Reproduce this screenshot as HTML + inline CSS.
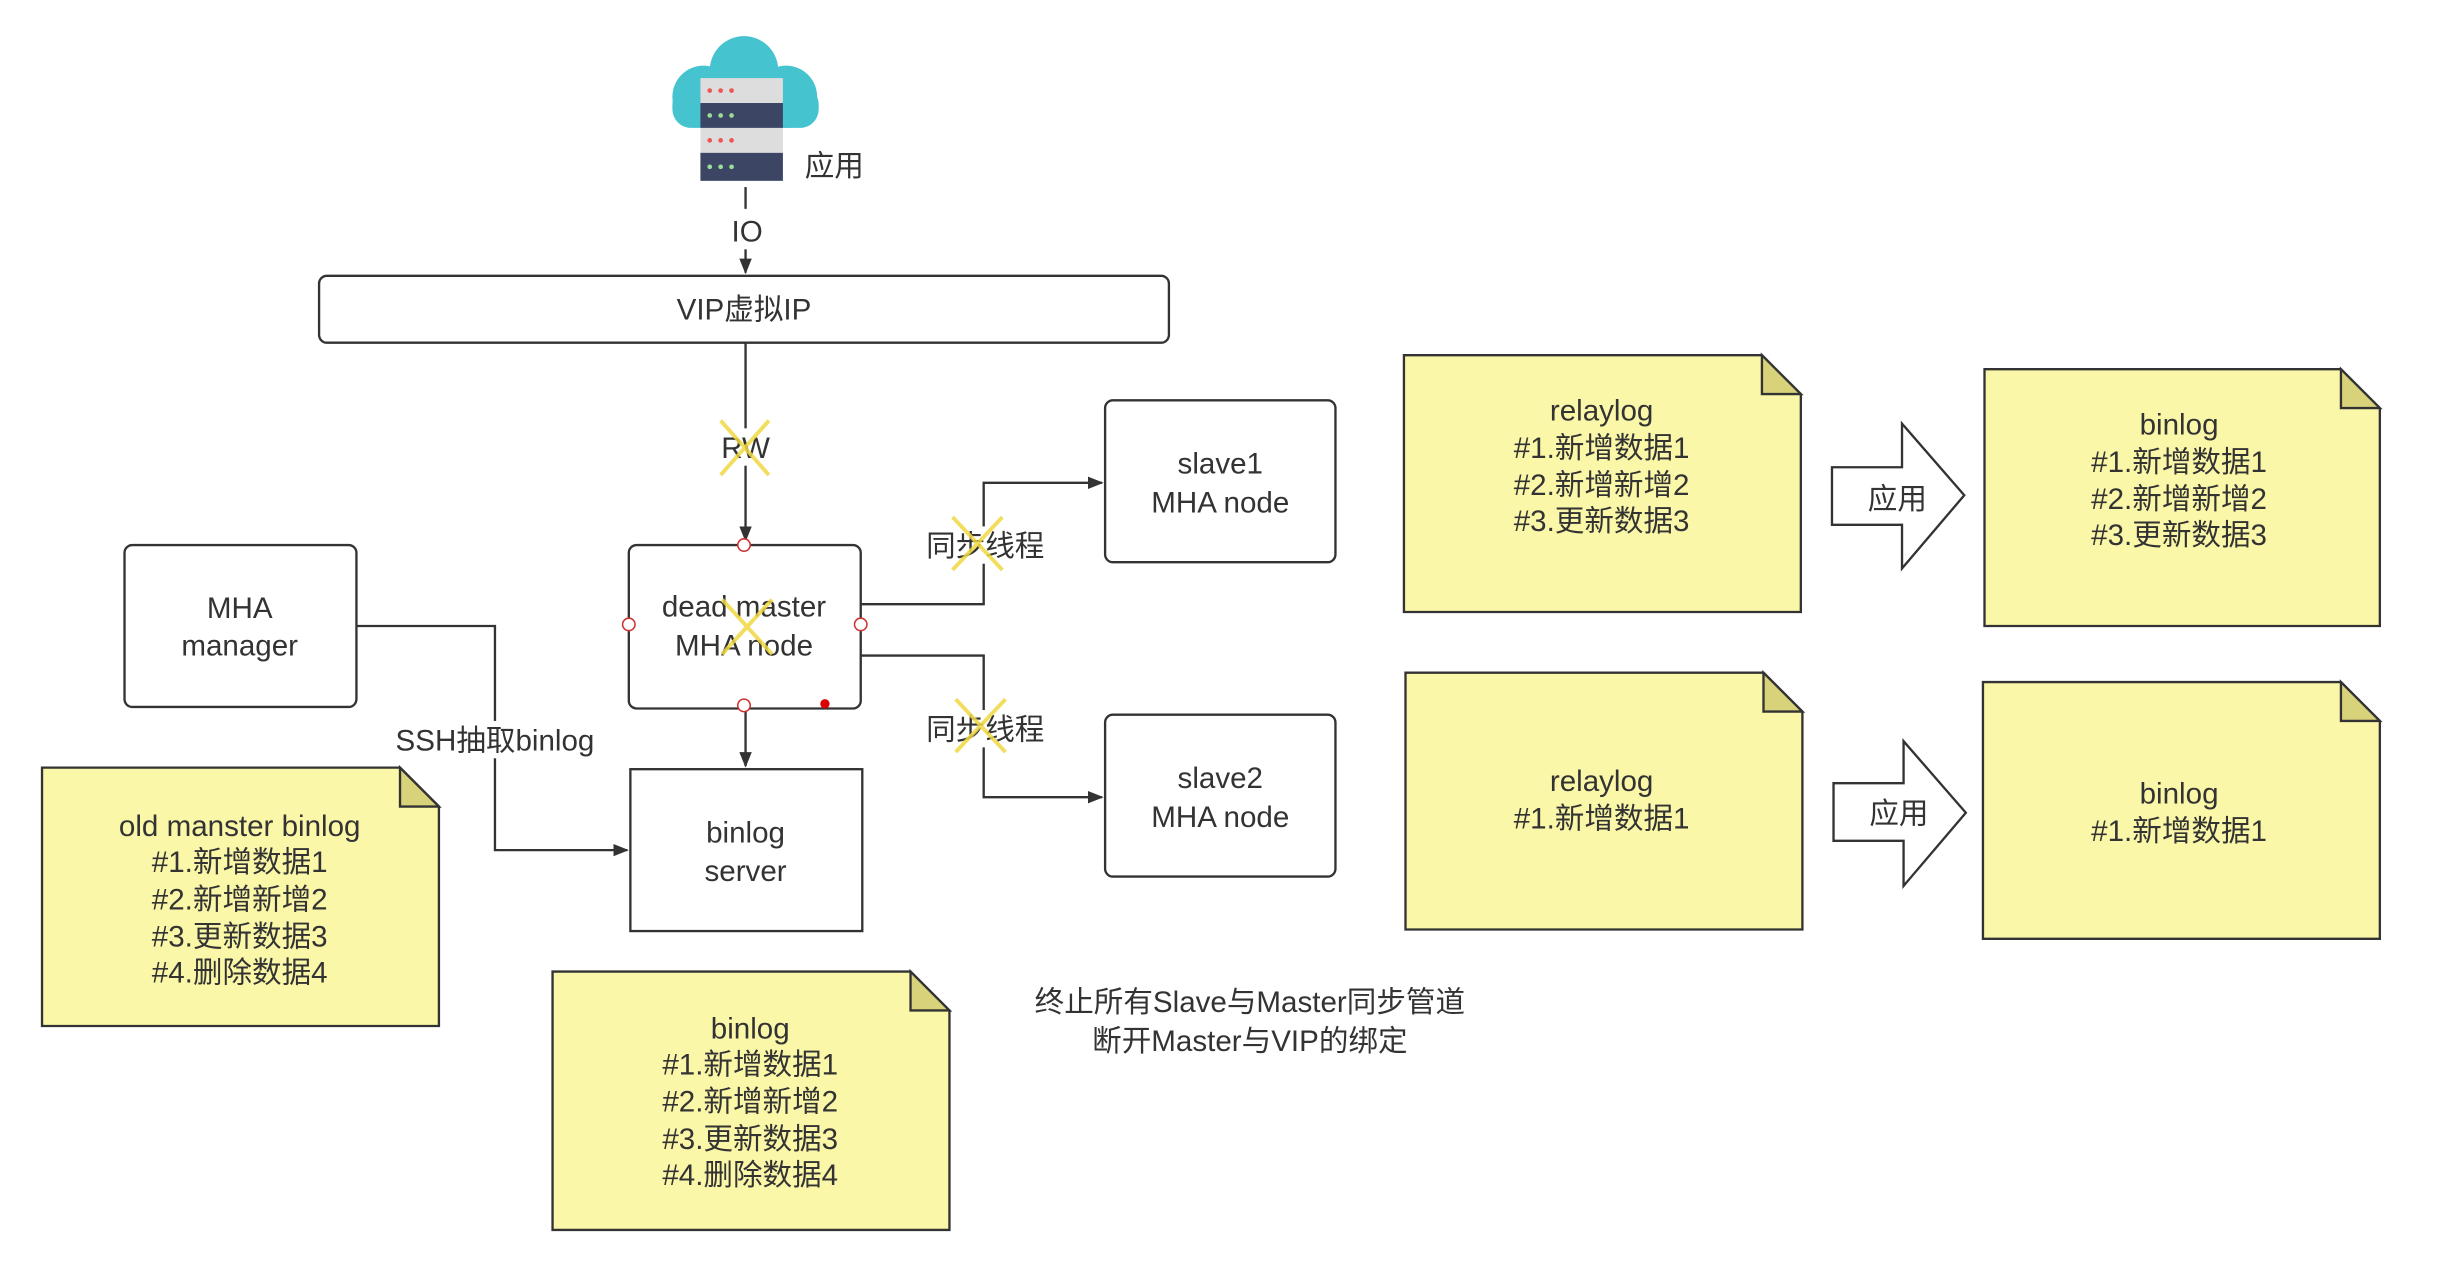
<!DOCTYPE html>
<html><head><meta charset="utf-8"><style>
html,body{margin:0;padding:0;background:#fff;width:2439px;height:1280px;overflow:hidden}
text{font-family:"Liberation Sans","Noto Sans CJK SC",sans-serif;fill:#333;font-size:19px}
</style></head><body>
<svg width="2439" height="1280" viewBox="0 0 1567 822" xmlns="http://www.w3.org/2000/svg">
<defs><marker id="a" markerWidth="10" markerHeight="10" refX="9" refY="5" orient="auto" markerUnits="userSpaceOnUse"><path d="M0,1 L10,5 L0,9 z" fill="#333"/></marker></defs>
<g stroke="#333" stroke-width="1.5" fill="none">
<g stroke="none" fill="#45c4cf"><circle cx="478" cy="45" r="22"/><circle cx="452" cy="62" r="20"/><circle cx="505" cy="62" r="20"/><rect x="432" y="55" width="94" height="27" rx="12"/></g>
<g stroke="none"><rect x="450" y="50" width="53" height="16" fill="#ddd"/><rect x="450" y="66" width="53" height="16" fill="#3c4664"/><rect x="450" y="82" width="53" height="16" fill="#ddd"/><rect x="450" y="98" width="53" height="18" fill="#3c4664"/>
<g fill="#e55"><circle cx="456" cy="58" r="1.5"/><circle cx="463" cy="58" r="1.5"/><circle cx="470" cy="58" r="1.5"/><circle cx="456" cy="90" r="1.5"/><circle cx="463" cy="90" r="1.5"/><circle cx="470" cy="90" r="1.5"/></g>
<g fill="#9d9"><circle cx="456" cy="74" r="1.5"/><circle cx="463" cy="74" r="1.5"/><circle cx="470" cy="74" r="1.5"/><circle cx="456" cy="107" r="1.5"/><circle cx="463" cy="107" r="1.5"/><circle cx="470" cy="107" r="1.5"/></g></g>
<line x1="479" y1="120" x2="479" y2="134"/>
<line x1="479" y1="160" x2="479" y2="175" marker-end="url(#a)"/>
<rect x="205" y="177" width="546" height="43" rx="5"/>
<line x1="479" y1="220" x2="479" y2="347" marker-end="url(#a)"/>
<rect x="404" y="350" width="149" height="105" rx="5"/>
<line x1="479" y1="455" x2="479" y2="492" marker-end="url(#a)"/>
<rect x="405" y="494" width="149" height="104"/>
<rect x="80" y="350" width="149" height="104" rx="5"/>
<polyline points="229,402 318,402 318,546 403,546" marker-end="url(#a)"/>
<rect x="710" y="257" width="148" height="104" rx="5"/>
<rect x="710" y="459" width="148" height="104" rx="5"/>
<polyline points="553,388 632,388 632,310 708,310" marker-end="url(#a)"/>
<polyline points="553,421 632,421 632,512 708,512" marker-end="url(#a)"/>
<g fill="#fbf7a8">
<path d="M27,493 H257 L282,518 V659 H27 Z"/>
<path d="M355,624 H585 L610,649 V790 H355 Z"/>
<path d="M902,228 H1132 L1157,253 V393 H902 Z"/>
<path d="M1275,237 H1504 L1529,262 V402 H1275 Z"/>
<path d="M903,432 H1133 L1158,457 V597 H903 Z"/>
<path d="M1274,438 H1504 L1529,463 V603 H1274 Z"/>
</g>
<g fill="#d8d27a">
<path d="M257,493 L282,518 H257 Z"/><path d="M585,624 L610,649 H585 Z"/><path d="M1132,228 L1157,253 H1132 Z"/><path d="M1504,237 L1529,262 H1504 Z"/><path d="M1133,432 L1158,457 H1133 Z"/><path d="M1504,438 L1529,463 H1504 Z"/>
</g>
<path d="M1177,300 H1222 V272 L1262,318 L1222,365 V337 H1177 Z" fill="#fff"/>
<path d="M1178,503 H1223 V476 L1263,522 L1223,569 V540 H1178 Z" fill="#fff"/>
<g fill="#fff" stroke="#c33" stroke-width="1"><circle cx="478" cy="350" r="4"/><circle cx="404" cy="401" r="4"/><circle cx="553" cy="401" r="4"/><circle cx="478" cy="453" r="4"/></g>
<circle cx="530" cy="452" r="3" fill="#d00" stroke="none"/>
</g>
<g fill="#fff" stroke="none"><rect x="468" y="137" width="24" height="22"/><rect x="250" y="463" width="136" height="24"/><rect x="594" y="338" width="78" height="24"/><rect x="594" y="456" width="78" height="24"/><rect x="462" y="275" width="34" height="24"/></g>
<g text-anchor="middle">
<text x="536" y="113">应用</text>
<text x="480" y="155">IO</text>
<text x="478" y="205">VIP虚拟IP</text>
<text x="479" y="294">RW</text>
<text x="478" y="396">dead master</text><text x="478" y="421">MHA node</text>
<text x="479" y="541">binlog</text><text x="479" y="566">server</text>
<text x="154" y="397">MHA</text><text x="154" y="421">manager</text>
<text x="318" y="482">SSH抽取binlog</text>
<text x="784" y="304">slave1</text><text x="784" y="329">MHA node</text>
<text x="784" y="506">slave2</text><text x="784" y="531">MHA node</text>
<text x="633" y="357">同步线程</text><text x="633" y="475">同步线程</text>
<text x="154" y="537">old manster binlog</text><text x="154" y="560">#1.新增数据1</text><text x="154" y="584">#2.新增新增2</text><text x="154" y="608">#3.更新数据3</text><text x="154" y="631">#4.删除数据4</text>
<text x="482" y="667">binlog</text><text x="482" y="690">#1.新增数据1</text><text x="482" y="714">#2.新增新增2</text><text x="482" y="738">#3.更新数据3</text><text x="482" y="761">#4.删除数据4</text>
<text x="803" y="650">终止所有Slave与Master同步管道</text><text x="803" y="675">断开Master与VIP的绑定</text>
<text x="1029" y="270">relaylog</text><text x="1029" y="294">#1.新增数据1</text><text x="1029" y="318">#2.新增新增2</text><text x="1029" y="341">#3.更新数据3</text>
<text x="1400" y="279">binlog</text><text x="1400" y="303">#1.新增数据1</text><text x="1400" y="327">#2.新增新增2</text><text x="1400" y="350">#3.更新数据3</text>
<text x="1029" y="508">relaylog</text><text x="1029" y="532">#1.新增数据1</text>
<text x="1400" y="516">binlog</text><text x="1400" y="540">#1.新增数据1</text>
<text x="1219" y="327">应用</text><text x="1220" y="529">应用</text>
</g>
<g stroke="#f0d840" stroke-width="2.5" opacity="0.85">
<path d="M463,270 L494,305 M494,270 L463,305"/>
<path d="M464,385 L496,420 M496,385 L464,420"/>
<path d="M612,332 L644,366 M644,332 L612,366"/>
<path d="M614,449 L646,483 M646,449 L614,483"/>
</g>
</svg>
</body></html>
